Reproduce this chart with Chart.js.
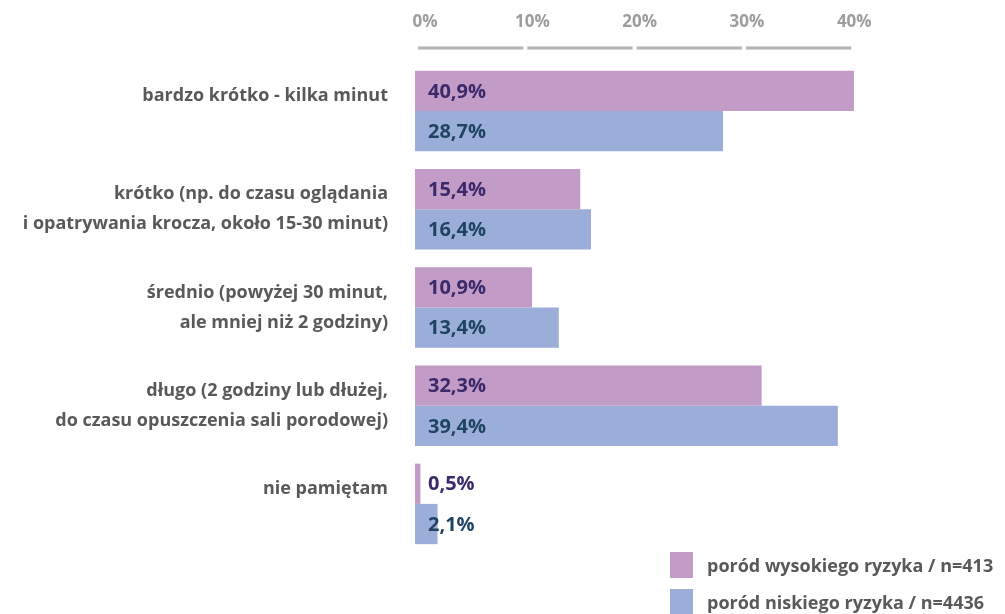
<!DOCTYPE html>
<html>
<head>
<meta charset="utf-8">
<script src="https://cdn.jsdelivr.net/npm/chart.js@4"></script>
<style>
  html, body { margin: 0; padding: 0; background: #fff; }
  #wrap { position: relative; width: 1005px; height: 614px; }
  #legenda { position: absolute; left: 670px; top: 546px; font: bold 18px "Open Sans", sans-serif; color: #595959; white-space: nowrap; }
  #legenda div { display: flex; align-items: center; height: 37px; }
  #legenda span.kw { display: inline-block; width: 23px; height: 26px; margin-right: 14px; }
</style>
</head>
<body>
<div id="wrap">
  <canvas id="grafica" width="1005" height="614"></canvas>
  <div id="legenda"></div>
</div>
<script>
const kategorie = [
    ['bardzo krótko - kilka minut', ''],
    ['krótko (np. do czasu oglądania', 'i opatrywania krocza, około 15-30 minut)'],
    ['średnio (powyżej 30 minut,', 'ale mniej niż 2 godziny)'],
    ['długo (2 godziny lub dłużej,', 'do czasu opuszczenia sali porodowej)'],
    ['nie pamiętam', '']
];
const wysokie = [40.9, 15.4, 10.9, 32.3, 0.5];
const niskie = [28.7, 16.4, 13.4, 39.4, 2.1];
const podzialka = [0, 10, 20, 30, 40];
const serie = ['poród wysokiego ryzyka / n=413', 'poród niskiego ryzyka / n=4436'];

const kolory = ['#c29bc7', '#9baed9'];
const koloryTekstu = ['#3b2a6b', '#1f4462'];
const czcionka = '"Open Sans", sans-serif';

// odcinki osi pod etykietami procentow
const odcinkiOsi = {
    id: 'odcinkiOsi',
    afterDraw(chart) {
        const ctx = chart.ctx;
        const x = chart.scales.x;
        ctx.save();
        ctx.strokeStyle = '#b3b3b3';
        ctx.lineWidth = 3;
        for (let i = 0; i < podzialka.length - 1; i++) {
            const a = x.getPixelForValue(podzialka[i]) + 3 + i * 2;
            const b = x.getPixelForValue(podzialka[i + 1]) + 1 + i * 2;
            ctx.beginPath();
            ctx.moveTo(a, 48);
            ctx.lineTo(b, 48);
            ctx.stroke();
        }
        ctx.restore();
    }
};

// wartosci wpisane w slupki
const etykietyWartosci = {
    id: 'etykietyWartosci',
    afterDatasetsDraw(chart) {
        const ctx = chart.ctx;
        const x0 = chart.scales.x.getPixelForValue(0);
        ctx.save();
        ctx.font = 'bold 20px ' + czcionka;
        ctx.textBaseline = 'middle';
        ctx.textAlign = 'left';
        chart.data.datasets.forEach(function(ds, i) {
            chart.getDatasetMeta(i).data.forEach(function(bar, j) {
                ctx.fillStyle = koloryTekstu[i];
                const txt = ds.data[j].toFixed(1).replace('.', ',') + '%';
                ctx.fillText(txt, x0 + 13, bar.y + 1);
            });
        });
        ctx.restore();
    }
};

const datos = {
    labels: kategorie,
    datasets: [
        { label: serie[0], data: wysokie, backgroundColor: kolory[0] },
        { label: serie[1], data: niskie, backgroundColor: kolory[1] }
    ]
};

const configuracion = {
    type: 'bar',
    data: datos,
    options: {
        indexAxis: 'y',
        responsive: false,
        animation: false,
        layout: { padding: { left: 0, right: 150, top: 0, bottom: 61 } },
        datasets: { bar: { categoryPercentage: 0.82, barPercentage: 1.0 } },
        plugins: { legend: { display: false }, tooltip: { enabled: false } },
        scales: {
            x: {
                position: 'top',
                min: 0,
                max: 41,
                afterFit(s) { s.height = 62; },
                afterBuildTicks(s) { s.ticks = podzialka.map(v => ({ value: v })); },
                grid: { display: false },
                border: { display: false },
                ticks: {
                    color: '#9d9d9d',
                    font: { family: czcionka, size: 17, weight: 'bold' },
                    labelOffset: 10,
                    padding: 22,
                    callback: v => v + '%'
                }
            },
            y: {
                afterFit(s) { s.width = 415; },
                grid: { display: false },
                border: { display: false },
                ticks: {
                    color: '#595959',
                    font: { family: czcionka, size: 18, weight: 'bold', lineHeight: 1.67 },
                    padding: 19
                }
            }
        }
    },
    plugins: [odcinkiOsi, etykietyWartosci]
};

new Chart(document.getElementById('grafica'), configuracion);

const legenda = document.getElementById('legenda');
serie.forEach(function(s, i) {
    legenda.innerHTML += '<div><span class="kw" style="background:' + kolory[i] + '"></span>' + s + '</div>';
});
</script>
</body>
</html>
